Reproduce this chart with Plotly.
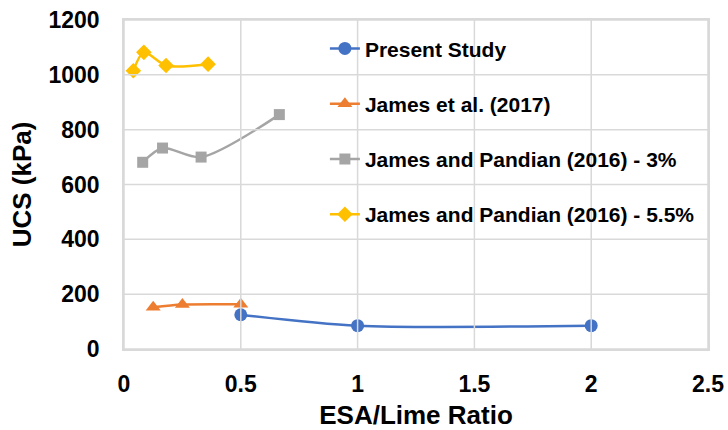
import plotly.graph_objects as go

# ESA/Lime ratio vs UCS (kPa)
present_x = [0.5, 1.0, 2.0]
present_y = [125, 85, 85]

james2017_x = [0.125, 0.25, 0.5]
james2017_y = [152, 162, 163]

jp3_x = [0.08, 0.165, 0.33, 0.665]
jp3_y = [681, 733, 700, 855]

jp55_x = [0.04, 0.085, 0.18, 0.36]
jp55_y = [1015, 1082, 1034, 1039]

x_ticks = [0, 0.5, 1, 1.5, 2, 2.5]
x_ticklabels = ["0", "0.5", "1", "1.5", "2", "2.5"]
y_ticks = [0, 200, 400, 600, 800, 1000, 1200]

FONT = "Liberation Sans, Arial, sans-serif"
GRID = "#d9d9d9"

fig = go.Figure()

series = [
    ("Present Study", present_x, present_y, "#4472C4", "circle", 13),
    ("James et al. (2017)", james2017_x, james2017_y, "#ED7D31", "triangle-up", 13),
    ("James and Pandian (2016) - 3%", jp3_x, jp3_y, "#A5A5A5", "square", 11),
    ("James and Pandian (2016) - 5.5%", jp55_x, jp55_y, "#FFC000", "diamond", 12),
]

# gridlines as shapes at the tick values
for xv in x_ticks:
    fig.add_shape(type="line", xref="x", yref="paper", x0=xv, x1=xv, y0=0, y1=1,
                  line=dict(color=GRID, width=1.5), layer="above")
for yv in y_ticks:
    fig.add_shape(type="line", xref="paper", yref="y", x0=0, x1=1, y0=yv, y1=yv,
                  line=dict(color=GRID, width=1.5), layer="above")

for i, (name, xs, ys, col, sym, size) in enumerate(series):
    fig.add_trace(go.Scatter(
        x=xs, y=ys, name=name,
        mode="lines+markers",
        line=dict(color=col, width=2.5, shape="spline", smoothing=0.8),
        marker=dict(color=col, symbol=sym, size=size),
        legendgroup=f"g{i}",
    ))

fig.update_layout(
    width=728, height=430,
    margin=dict(l=124, r=20, t=20, b=81, autoexpand=False),
    paper_bgcolor="white",
    plot_bgcolor="white",
    font=dict(family=FONT, color="black"),
    showlegend=True,
    legend=dict(
        x=0.344, y=0.975, xanchor="left", yanchor="top",
        bgcolor="rgba(0,0,0,0)",
        font=dict(family=FONT, size=21, color="black", weight="bold"),
        traceorder="grouped",
        tracegroupgap=25,
        itemwidth=30,
    ),
)

fig.update_xaxes(
    range=[0, 2.5],
    tickvals=x_ticks, ticktext=x_ticklabels,
    showgrid=True, gridcolor=GRID, gridwidth=1,
    zeroline=False, automargin=False,
    showline=True, linecolor=GRID, linewidth=1.5, mirror=True,
    ticks="outside", ticklen=14, tickcolor="rgba(0,0,0,0)",
    tickfont=dict(family=FONT, size=23, color="black", weight="bold"),
    title=dict(text="ESA/Lime Ratio", standoff=14,
               font=dict(family=FONT, size=26, color="black", weight="bold")),
)

fig.update_yaxes(
    range=[0, 1200], tickvals=y_ticks,
    showgrid=True, gridcolor=GRID, gridwidth=1,
    zeroline=False, automargin=False,
    showline=True, linecolor=GRID, linewidth=1.5, mirror=True,
    ticks="outside", ticklen=18, tickcolor="rgba(0,0,0,0)",
    tickfont=dict(family=FONT, size=23, color="black", weight="bold"),
    title=dict(text="UCS (kPa)", standoff=9,
               font=dict(family=FONT, size=26, color="black", weight="bold")),
)

fig.write_html("out.html", config={"displayModeBar": False},
               post_script="document.body.style.margin='0';")
